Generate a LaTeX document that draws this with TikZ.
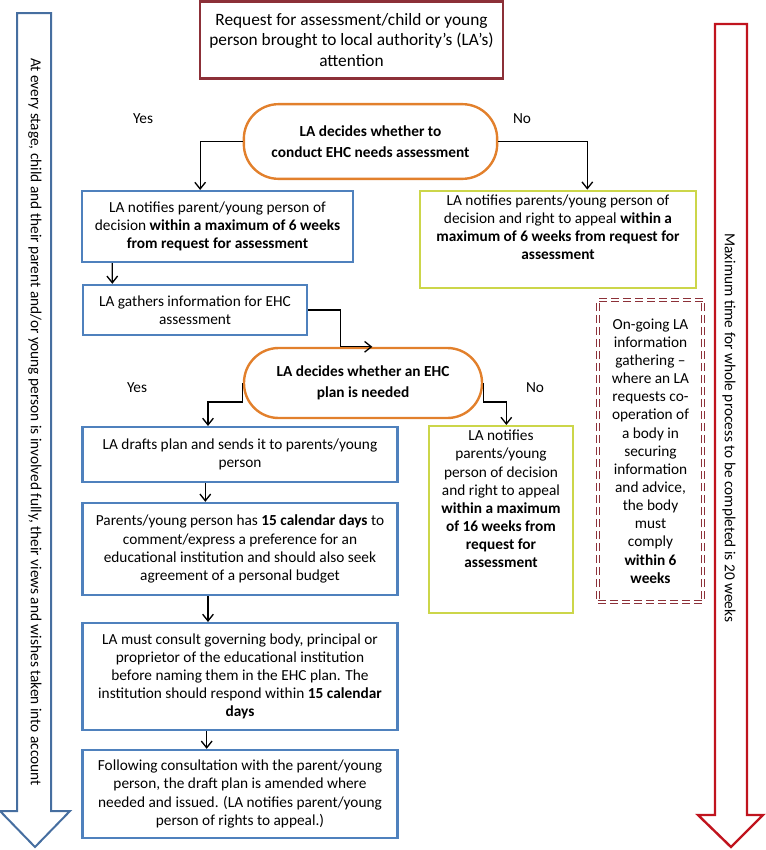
\documentclass[tikz,border=0pt]{standalone}
\usepackage{fontspec}
\setmainfont{Carlito}
\usepackage{xcolor}
\usepackage{tikz}
\usetikzlibrary{positioning,arrows.meta}

\definecolor{laBlue}{RGB}{79,129,189}
\definecolor{laYellow}{RGB}{204,214,74}
\definecolor{laOrange}{RGB}{226,128,44}
\definecolor{laMaroon}{RGB}{140,48,56}
\definecolor{laRed}{RGB}{192,20,30}
\definecolor{laNavy}{RGB}{70,110,160}

\begin{document}
\begin{tikzpicture}[x=0.75pt, y=-0.75pt, font=\fontsize{11.5}{13.6}\selectfont,
  bluebox/.style={draw=laBlue, line width=1.8pt, align=center, inner sep=2pt},
  yellowbox/.style={draw=laYellow, line width=1.8pt, align=center, inner sep=2pt},
  decision/.style={draw=laOrange, line width=1.8pt, rounded corners=26pt, align=center,
    font=\fontsize{11.5}{16}\selectfont\bfseries},
  flow/.style={-{Straight Barb[length=5pt,width=8pt]}, line width=1pt},
  answer/.style={font=\fontsize{11.5}{13.6}\selectfont}]
\useasboundingbox (0,0) rectangle (765,850);

\draw[laNavy, line width=1.5pt] (17,13) -- (51,13) -- (51,811) -- (70,811) -- (35,847) -- (0,811) -- (17,811) -- cycle;
\draw[laRed, line width=1.8pt] (715,24) -- (747,24) -- (747,815) -- (763,815) -- (731,847) -- (698,815) -- (715,815) -- cycle;
\node[rotate=-90] (every_stage) at (35,422) {At every stage, child and their parent and/or young person is involved fully, their views and wishes taken into account};
\node[rotate=-90] (max_time) at (729,428) {Maximum time for whole process to be completed is 20 weeks};

\node[draw=laMaroon, line width=1.8pt, align=center, minimum width=227pt, minimum height=58pt,
  font=\fontsize{13}{15.6}\selectfont] (request) at (351.5,40) {Request for assessment/child or young\\person brought to local authority’s (LA’s)\\attention};

\node[decision, minimum width=190pt, minimum height=56pt] (decide_assess) at (370.5,141.5) {LA decides whether to\\conduct EHC needs assessment};
\node[answer] (yes_assess) at (143,119) {Yes};
\node[answer] (no_assess) at (522,119) {No};

\node[bluebox, minimum width=203pt, minimum height=53pt] (notify_yes) at (217.5,226.5) {LA notifies parent/young person of\\decision \textbf{within a maximum of 6 weeks}\\\textbf{from request for assessment}};
\node[yellowbox, minimum width=207pt, minimum height=73pt] (notify_no) at (558,239.5) {LA notifies parents/young person of\\decision and right to appeal \textbf{within a}\\\textbf{maximum of 6 weeks from request for}\\\textbf{assessment}\\[0.4em]};

\node[bluebox, minimum width=168pt, minimum height=37.5pt] (gather) at (195,310) {LA gathers information for EHC\\assessment};

\node[decision, minimum width=178.5pt, minimum height=52.5pt] (decide_plan) at (363,383) {LA decides whether an EHC\\plan is needed};
\node[answer] (yes_plan) at (137,388) {Yes};
\node[answer] (no_plan) at (535,388) {No};

\node[bluebox, minimum width=236pt, minimum height=41pt] (draft) at (240,454.5) {LA drafts plan and sends it to parents/young\\person};
\node[yellowbox, minimum width=108pt, minimum height=140pt] (plan_no) at (501,519.5) {LA notifies\\parents/young\\person of decision\\and right to appeal\\\textbf{within a maximum}\\\textbf{of 16 weeks from}\\\textbf{request for}\\\textbf{assessment}\\[1.5em]};
\node[bluebox, minimum width=236pt, minimum height=69pt] (comment) at (240,549) {Parents/young person has \textbf{15 calendar days} to\\comment/express a preference for an\\educational institution and should also seek\\agreement of a personal budget};
\node[bluebox, minimum width=236pt, minimum height=80pt] (consult) at (240,676.5) {LA must consult governing body, principal or\\proprietor of the educational institution\\before naming them in the EHC plan. The\\institution should respond within \textbf{15 calendar}\\\textbf{days}};
\node[bluebox, minimum width=236pt, minimum height=66pt] (issue) at (240,794) {Following consultation with the parent/young\\person, the draft plan is amended where\\needed and issued. (LA notifies parent/young\\person of rights to appeal.)};

\node[draw=laMaroon, line width=0.6pt, double=white, double distance=1.6pt, dash pattern=on 6pt off 3pt,
  align=center, minimum width=79pt, minimum height=226.5pt] (ongoing) at (650.5,451) {On-going LA\\information\\gathering –\\where an LA\\requests co-\\operation of\\a body in\\securing\\information\\and advice,\\the body\\must\\comply\\\textbf{within 6}\\\textbf{weeks}};

\draw[flow] (decide_assess.west) -| ([xshift=-13pt]notify_yes.north);
\draw[flow] (decide_assess.east) -| ([xshift=22pt]notify_no.north);
\draw[flow] ([xshift=-79pt]notify_yes.south) -- ([xshift=-62pt]gather.north);
\draw[flow] (gather.east) -- ++(32,0) |- ([xshift=7pt]decide_plan.north);
\draw[flow] (decide_plan.west) -- ++(0,19) -| ([xshift=-24pt]draft.north);
\draw[flow] (decide_plan.east) -- ++(0,19) -| ([xshift=4pt]plan_no.north);
\draw[flow] ([xshift=-26pt]draft.south) -- ([xshift=-26pt]comment.north);
\draw[flow] ([xshift=-24pt]comment.south) -- ([xshift=-24pt]consult.north);
\draw[flow] ([xshift=-25pt]consult.south) -- ([xshift=-25pt]issue.north);

\end{tikzpicture}
\end{document}
